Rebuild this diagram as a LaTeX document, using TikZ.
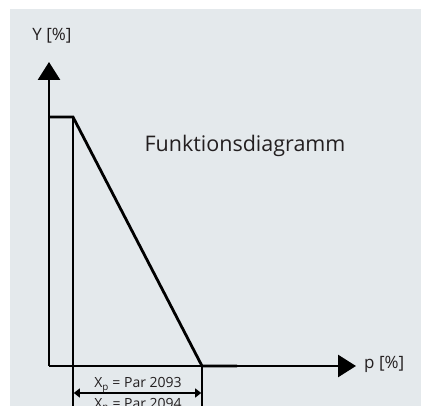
\documentclass[tikz,border=0pt]{standalone}
\usepackage{fontspec}
\setmainfont{Open Sans}
\usetikzlibrary{positioning, arrows.meta}
\definecolor{panelgray}{HTML}{E4E9EC}
\definecolor{inkgray}{HTML}{231F20}

\begin{document}
\begin{tikzpicture}[x=1pt, y=1pt,
        axis/.style={line width=2.8pt, -{Triangle[length=18pt, width=22pt]}},
        curve/.style={line width=2.8pt, line join=miter},
        guide/.style={line width=1.5pt},
        dim/.style={line width=1.3pt, {Triangle[length=6pt, width=9pt]}-{Triangle[length=6pt, width=9pt]}},
        lbl/.style={font=\fontsize{17}{20}\selectfont, text=inkgray, inner sep=0pt},
        title/.style={font=\fontsize{21.5}{25}\selectfont, text=inkgray, inner sep=0pt},
        dimlbl/.style={font=\fontsize{14}{16}\selectfont, text=inkgray, inner sep=0pt},
    ]
    \useasboundingbox (0,0) rectangle (421,406);
    \clip (0,0) rectangle (421,406);
    \fill[panelgray] (10,0) rectangle (421,397);

    % axes
    \coordinate (origin) at (49,40);
    \coordinate (ytip)   at (49,344);
    \coordinate (xtip)   at (356,40);
    \draw[axis] (origin) -- (ytip);
    \draw[axis] (origin) -- (xtip);
    \node[lbl] (ylabel) at (52,370) {Y [\%]};
    \node[lbl, anchor=west] (xlabel) at (364,42) {p [\%]};

    % characteristic
    \coordinate (top)  at (49,289);
    \coordinate (knee) at (73,289);
    \coordinate (foot) at (202,40);
    \coordinate (tail) at (237,40);
    \draw[curve] (top) -- (knee) -- (foot) -- (tail);
    \node[title] (name) at (245,260) {Funktionsdiagramm};

    % dimension
    \coordinate (kneelow) at (73,0);
    \coordinate (footlow) at (202,0);
    \draw[guide] (knee) -- (kneelow);
    \draw[guide] (foot) -- (footlow);
    \coordinate (dimL) at (73.8,13);
    \coordinate (dimR) at (201.2,13);
    \draw[dim] (dimL) -- (dimR);
    \node[dimlbl, anchor=base] (xp) at (138,18) {X$_\mathrm{p}$ = Par 2093};
    \node[dimlbl, anchor=base] (xn) at (138,-2.5) {X$_\mathrm{n}$ = Par 2094};
\end{tikzpicture}
\end{document}
